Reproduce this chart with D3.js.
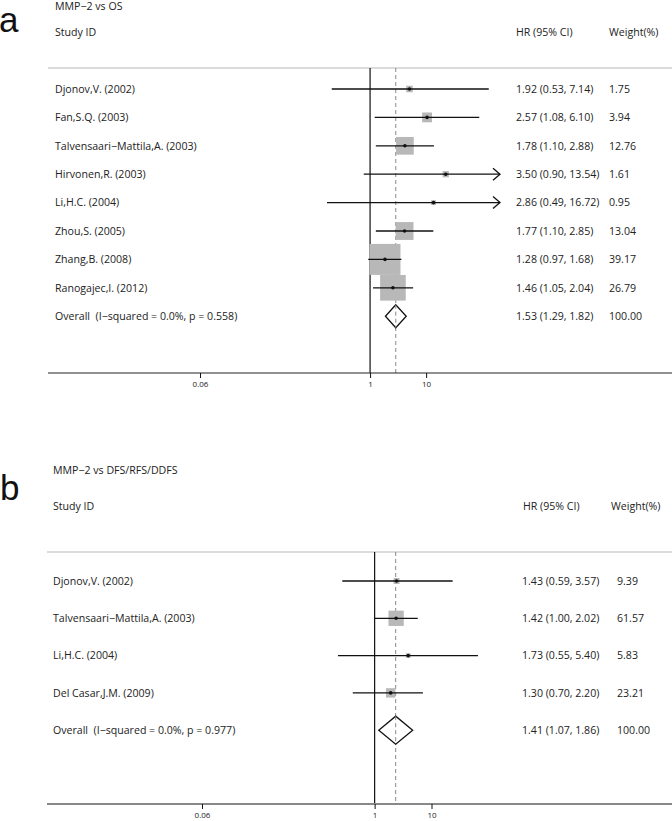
<!DOCTYPE html>
<html>
<head>
<meta charset="utf-8">
<script src="https://cdn.jsdelivr.net/npm/d3@7/dist/d3.min.js"></script>
<style>
  html, body { margin: 0; padding: 0; background: #fff; }
  svg { display: block; }
  text { font-family: "Open Sans", "Noto Sans", sans-serif; fill: #222; white-space: pre; }
</style>
</head>
<body>
<svg id="chart" width="672" height="821"></svg>
<script>
// ---------- Panel a: MMP-2 vs OS ----------
const titleA = "MMP\u22122 vs OS";
const studiesA = ["Djonov,V. (2002)", "Fan,S.Q. (2003)", "Talvensaari\u2212Mattila,A. (2003)", "Hirvonen,R. (2003)",
                  "Li,H.C. (2004)", "Zhou,S. (2005)", "Zhang,B. (2008)", "Ranogajec,I. (2012)"];
const hrA     = [1.92, 2.57, 1.78, 3.50, 2.86, 1.77, 1.28, 1.46];
const lowA    = [0.53, 1.08, 1.10, 0.90, 0.49, 1.10, 0.97, 1.05];
const highA   = [7.14, 6.10, 2.88, 13.54, 16.72, 2.85, 1.68, 2.04];
const weightA = [1.75, 3.94, 12.76, 1.61, 0.95, 13.04, 39.17, 26.79];
const overallLabelA = "Overall  (I\u2212squared = 0.0%, p = 0.558)";
const overallA = [1.53, 1.29, 1.82]; // HR, low, high

// ---------- Panel b: MMP-2 vs DFS/RFS/DDFS ----------
const titleB = "MMP\u22122 vs DFS/RFS/DDFS";
const studiesB = ["Djonov,V. (2002)", "Talvensaari\u2212Mattila,A. (2003)", "Li,H.C. (2004)", "Del Casar,J.M. (2009)"];
const hrB     = [1.43, 1.42, 1.73, 1.30];
const lowB    = [0.59, 1.00, 0.55, 0.70];
const highB   = [3.57, 2.02, 5.40, 2.20];
const weightB = [9.39, 61.57, 5.83, 23.21];
const overallLabelB = "Overall  (I\u2212squared = 0.0%, p = 0.977)";
const overallB = [1.41, 1.07, 1.86];

// Axis ticks as printed in the figure
const tickValues = [0.0598, 1, 2.53];
const tickLabels = ["0.06", "1", "10"];
const xDomain = [0.0598, 8.6];

const svg = d3.select("#chart");
const fmt = d3.format(".2f");
const FS = 10.6;

function drawPanel(cfg) {
  const g = svg.append("g");
  const x = d3.scaleLog().domain(xDomain).range(cfg.xRange);
  const n = cfg.studies.length;
  const rowY = d3.scaleLinear().domain([0, n]).range([cfg.firstRow, cfg.firstRow + n * cfg.rowStep]);
  const side = w => cfg.boxK * Math.sqrt(w);

  // panel letter
  g.append("text").attr("x", cfg.letterX).attr("y", cfg.letterY)
    .style("font-family", "'Liberation Sans', Arial, sans-serif")
    .attr("font-size", 35).style("fill", "#111").text(cfg.letter);

  // title + headers
  g.append("text").attr("x", cfg.textX).attr("y", cfg.titleY).attr("font-size", FS).text(cfg.title);
  g.append("text").attr("x", cfg.textX).attr("y", cfg.headY).attr("font-size", FS).text("Study ID");
  g.append("text").attr("x", cfg.hrHeadX).attr("y", cfg.headY).attr("font-size", FS).text("HR (95% CI)");
  g.append("text").attr("x", cfg.wHeadX).attr("y", cfg.headY).attr("font-size", FS).text("Weight(%)");

  // header rule
  g.append("line").attr("x1", cfg.ruleX).attr("x2", 672).attr("y1", cfg.ruleY).attr("y2", cfg.ruleY)
    .attr("stroke", "#cfcfcf").attr("stroke-width", 1.5);

  // null line
  g.append("line").attr("x1", x(1)).attr("x2", x(1)).attr("y1", cfg.ruleY).attr("y2", cfg.axisY)
    .attr("stroke", "#111").attr("stroke-width", 1.2);

  // overall dashed line
  g.append("line").attr("x1", x(cfg.overall[0])).attr("x2", x(cfg.overall[0]))
    .attr("y1", cfg.ruleY).attr("y2", cfg.axisY)
    .attr("stroke", "#888").attr("stroke-width", 1).attr("stroke-dasharray", "4,3");

  const rows = cfg.studies.map((s, i) => ({ s, hr: cfg.hr[i], lo: cfg.low[i], hi: cfg.high[i], w: cfg.weight[i], i }));
  const xMin = x.range()[0], xMax = x.range()[1];

  // boxes
  g.selectAll(".box").data(rows).enter().append("rect")
    .attr("x", d => x(d.hr) - side(d.w) / 2).attr("y", d => rowY(d.i) - side(d.w) / 2)
    .attr("width", d => side(d.w)).attr("height", d => side(d.w))
    .attr("fill", "#b8b8b8");

  // CI lines
  g.selectAll(".ci").data(rows).enter().append("line")
    .attr("x1", d => Math.max(xMin, x(d.lo))).attr("x2", d => Math.min(xMax, x(d.hi)))
    .attr("y1", d => rowY(d.i)).attr("y2", d => rowY(d.i))
    .attr("stroke", "#111").attr("stroke-width", 1.3);

  // arrows for truncated CIs
  g.selectAll(".arr").data(rows.filter(d => x(d.hi) > xMax)).enter().append("path")
    .attr("d", d => { const y = rowY(d.i); return `M${xMax - 7},${y - 6}L${xMax},${y}L${xMax - 7},${y + 6}`; })
    .attr("fill", "none").attr("stroke", "#111").attr("stroke-width", 1.3);

  // point estimate dots
  g.selectAll(".dot").data(rows).enter().append("circle")
    .attr("cx", d => x(d.hr)).attr("cy", d => rowY(d.i)).attr("r", 1.8).attr("fill", "#111");

  // study labels
  g.selectAll(".lab").data(rows).enter().append("text")
    .attr("x", cfg.textX).attr("y", d => rowY(d.i) + 3.7).attr("font-size", FS).text(d => d.s);
  g.selectAll(".hrt").data(rows).enter().append("text")
    .attr("x", cfg.hrX).attr("y", d => rowY(d.i) + 3.7).attr("font-size", FS)
    .text(d => `${fmt(d.hr)} (${fmt(d.lo)}, ${fmt(d.hi)})`);
  g.selectAll(".wt").data(rows).enter().append("text")
    .attr("x", cfg.wX).attr("y", d => rowY(d.i) + 3.7).attr("font-size", FS).text(d => fmt(d.w));

  // overall row
  const oy = rowY(n);
  const [ohr, olo, ohi] = cfg.overall;
  g.append("path")
    .attr("d", `M${x(olo)},${oy}L${x(ohr)},${oy - cfg.diaH}L${x(ohi)},${oy}L${x(ohr)},${oy + cfg.diaH}Z`)
    .attr("fill", "#fff").attr("stroke", "#111").attr("stroke-width", 1.3);
  g.append("line").attr("x1", x(ohr)).attr("x2", x(ohr)).attr("y1", oy - cfg.diaH).attr("y2", oy + cfg.diaH)
    .attr("stroke", "#888").attr("stroke-width", 1).attr("stroke-dasharray", "4,3");
  g.append("text").attr("x", cfg.textX).attr("y", oy + 3.7).attr("font-size", FS).text(cfg.overallLabel);
  g.append("text").attr("x", cfg.hrX).attr("y", oy + 3.7).attr("font-size", FS)
    .text(`${fmt(ohr)} (${fmt(olo)}, ${fmt(ohi)})`);
  g.append("text").attr("x", cfg.wX).attr("y", oy + 3.7).attr("font-size", FS).text("100.00");

  // axis
  g.append("line").attr("x1", cfg.ruleX).attr("x2", 672).attr("y1", cfg.axisY).attr("y2", cfg.axisY)
    .attr("stroke", cfg.axisColor).attr("stroke-width", cfg.axisW);
  const ax = g.append("g").attr("transform", `translate(0,${cfg.axisY})`)
    .call(d3.axisBottom(x).tickValues(tickValues).tickFormat((d, i) => tickLabels[i]).tickSize(5).tickPadding(3));
  ax.select(".domain").remove();
  ax.selectAll(".tick line").attr("stroke", "#111");
  ax.selectAll(".tick text").attr("font-size", 8).style("font-family", "'Open Sans', sans-serif").style("fill", "#222");
}

drawPanel({
  letter: "a", letterX: -1, letterY: 32,
  title: titleA, studies: studiesA, hr: hrA, low: lowA, high: highA, weight: weightA,
  overall: overallA, overallLabel: overallLabelA,
  xRange: [200, 500], firstRow: 89, rowStep: 28.4, boxK: 4.95, diaH: 11.5,
  textX: 55, titleY: 10, headY: 36, hrHeadX: 516, wHeadX: 609, hrX: 516, wX: 609,
  ruleX: 48, ruleY: 68, axisY: 373, axisColor: "#222", axisW: 1.2
});

drawPanel({
  letter: "b", letterX: 0, letterY: 500,
  title: titleB, studies: studiesB, hr: hrB, low: lowB, high: highB, weight: weightB,
  overall: overallB, overallLabel: overallLabelB,
  xRange: [202, 506.5], firstRow: 581, rowStep: 37.3, boxK: 1.95, diaH: 14,
  textX: 53, titleY: 474, headY: 510, hrHeadX: 523, wHeadX: 611, hrX: 522, wX: 617,
  ruleX: 47, ruleY: 552, axisY: 804, axisColor: "#888", axisW: 2
});
</script>
</body>
</html>
